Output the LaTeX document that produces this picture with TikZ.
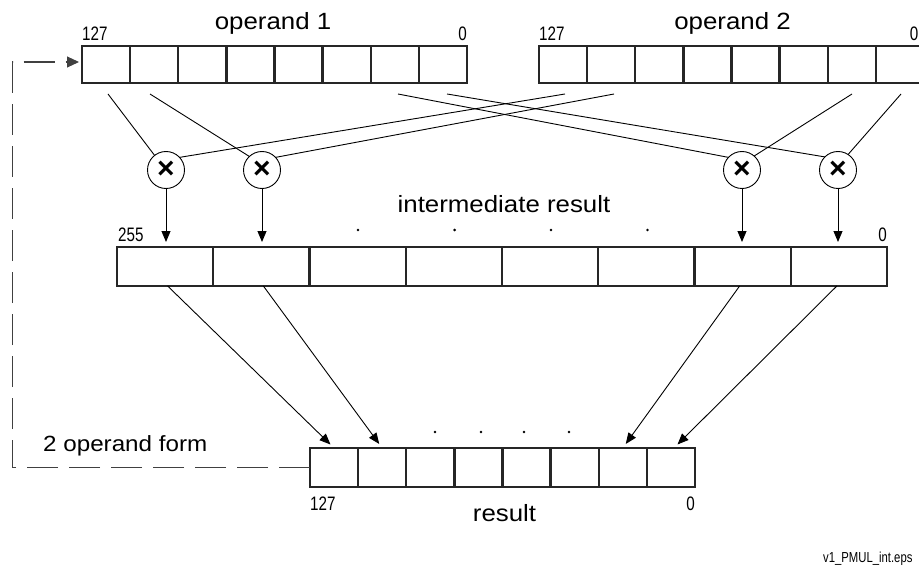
\documentclass[tikz,border=0pt]{standalone}
\usepackage{fontspec}
\setmainfont{Liberation Sans}
\newfontfamily\lblfont[FakeStretch=1.1]{Liberation Sans}
\newfontfamily\numfont[FakeStretch=0.78]{Liberation Sans}
\usetikzlibrary{arrows.meta,calc}
\begin{document}
\begin{tikzpicture}[x=1pt,y=-1pt,
  cellbox/.style={draw=black!85, line width=2.4pt, inner sep=0pt, outer sep=0pt, rectangle},
  cellA/.style={cellbox, minimum width=48.125pt, minimum height=37pt},
  cellI/.style={cellbox, minimum width=96.25pt, minimum height=39pt},
  cellR/.style={cellbox, minimum width=48.125pt, minimum height=39pt},
  mult/.style={draw=black, line width=0.9pt, circle, minimum size=37pt, inner sep=0pt, outer sep=0pt,
    font=\fontsize{30}{30}\selectfont\bfseries},
  wire/.style={draw=black, line width=0.9pt},
  arr/.style={wire, -{Triangle[length=11pt,width=9pt]}, shorten >=5pt},
  lbl/.style={inner sep=0pt, font=\lblfont\fontsize{23.5}{27}\selectfont},
  num/.style={inner sep=0pt, font=\numfont\fontsize{19.5}{22}\selectfont},
  tiny/.style={inner sep=0pt, font=\numfont\fontsize{14.5}{16}\selectfont},
  dotmark/.style={fill=black, circle, inner sep=0pt, minimum size=2.8pt},
  fb/.style={draw=black!75, line width=1.1pt, dash pattern=on 31pt off 11pt}
]
\useasboundingbox (0,0) rectangle (919,567);

% registers
\foreach \i in {1,...,8} {
  \node[cellA] (a\i) at ({82+48.125*(\i-0.5)},64.5) {};
  \node[cellA] (b\i) at ({539+48.125*(\i-0.5)},64.5) {};
  \node[cellI] (i\i) at ({117+96.25*(\i-0.5)},266.5) {};
  \node[cellR] (r\i) at ({310+48.125*(\i-0.5)},467.5) {};
}

% labels
\node[lbl, anchor=base] (lop1) at (273,29.5) {operand 1};
\node[lbl, anchor=base] (lop2) at (732.5,29.5) {operand 2};
\node[num, anchor=base west] (n1) at (82,40.5) {127};
\node[num, anchor=base east] (n2) at (467,40.5) {0};
\node[num, anchor=base west] (n3) at (539,40.5) {127};
\node[num, anchor=base east] (n4) at (918.5,40.5) {0};
\node[lbl, anchor=base] (lint) at (504,213) {intermediate result};
\node[num, anchor=base west] (n5) at (118,241) {255};
\node[num, anchor=base east] (n6) at (887,241) {0};
\node[lbl, anchor=base west, font=\lblfont\fontsize{22}{26}\selectfont] (lform) at (43,451.5) {2 operand form};
\node[num, anchor=base west] (n7) at (310,510) {127};
\node[num, anchor=base east] (n8) at (695,510) {0};
\node[lbl, anchor=base] (lres) at (504.5,521.5) {result};
\node[tiny, anchor=base west] (fname) at (823,562) {v1\_PMUL\_int.eps};

% dots
\foreach \x [count=\k] in {358,454.6,551,647.4} \node[dotmark] (di\k) at (\x,230) {};
\foreach \x [count=\k] in {435,481,524,569} \node[dotmark] (dr\k) at (\x,432) {};

% multipliers
\node[mult] (m1) at (166,170) {×};
\node[mult] (m2) at (262,170) {×};
\node[mult] (m3) at (742,170) {×};
\node[mult] (m4) at (838,170) {×};

% wire start points
\coordinate (s1) at (108,94);
\coordinate (s2) at (150,94);
\coordinate (s3) at (398,94);
\coordinate (s4) at (447,94);
\coordinate (t1) at (565,94);
\coordinate (t2) at (614,94);
\coordinate (t3) at (852,94);
\coordinate (t4) at (901,94);

\draw[wire] (s1) -- (m1.128);
\draw[wire] (t1) -- (m1.43);
\draw[wire] (s2) -- (m2.133);
\draw[wire] (t2) -- (m2.43);
\draw[wire] (s3) -- (m3.137);
\draw[wire] (t3) -- (m3.49);
\draw[wire] (s4) -- (m4.135);
\draw[wire] (t4) -- (m4.57);

% products into intermediate result
\draw[arr] (m1.south) -- (m1.south |- i1.north);
\draw[arr] (m2.south) -- (m2.south |- i2.north);
\draw[arr] (m3.south) -- (m3.south |- i7.north);
\draw[arr] (m4.south) -- (m4.south |- i8.north);

% intermediate to result
\draw[arr] ($(i1.south)+(2.5,0)$) -- (r1.north);
\draw[arr] ($(i2.south)+(2,0)$) -- (r2.north);
\draw[arr] ($(i7.south)+(-3,0)$) -- (r7.north);
\draw[arr] ($(i8.south)+(-2,0)$) -- ($(r8.north)+(3,0)$);

% two-operand feedback
\coordinate (fbc) at (12.5,62);
\draw[fb, -{Triangle[length=12pt,width=11pt]}, shorten >=3pt] (r1.west) -| (fbc) -- (fbc -| a1.west);
\end{tikzpicture}
\end{document}
